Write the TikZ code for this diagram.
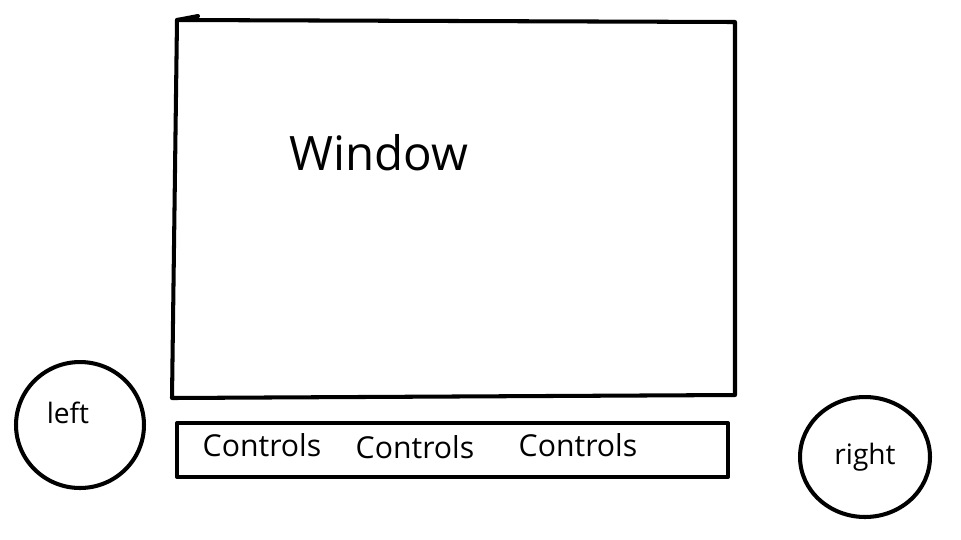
\documentclass[tikz,border=0pt]{standalone}
\usepackage{fontspec}
\setmainfont{Open Sans}
\usetikzlibrary{shapes.geometric, positioning}
\tikzset{
  sketch/.style={draw=black, line width=2.3pt, line cap=round, line join=round},
  knob/.style={sketch, ellipse, inner sep=0pt, font=\fontsize{16}{18}\selectfont},
  panelbox/.style={sketch, rectangle, minimum width=11.02cm, minimum height=1.08cm},
  ctrl/.style={font=\fontsize{17.2}{19}\selectfont}
}
\begin{document}
\begin{tikzpicture}[x=0.02cm, y=-0.02cm]
\useasboundingbox (0,0) rectangle (961,539);
% main window, drawn by hand
\coordinate (wtl) at (177,20);
\coordinate (wtr) at (735,22);
\coordinate (wbr) at (735,395);
\coordinate (wbl) at (172,398);
\draw[sketch] (wtl) -- (wtr) -- (wbr) -- (wbl) -- cycle;
\draw[sketch] (wtl) -- (198,16);
\node[font=\fontsize{27}{30}\selectfont] (win) at (379,153) {Window};

% control strip
\node[panelbox] (panel) at (452.5,450) {};
\node[ctrl] (c1) at (262,445) {Controls};
\node[ctrl] (c2) at (415,447) {Controls};
\node[ctrl] (c3) at (578,445) {Controls};

% side buttons
\node[knob, minimum width=2.56cm, minimum height=2.52cm] (lft) at (80,425) {};
\node[font=\fontsize{16}{18}\selectfont] (lftlbl) at (68,413) {left};
\node[knob, minimum width=2.6cm, minimum height=2.4cm] (rgt) at (865,457) {right};
\end{tikzpicture}
\end{document}
